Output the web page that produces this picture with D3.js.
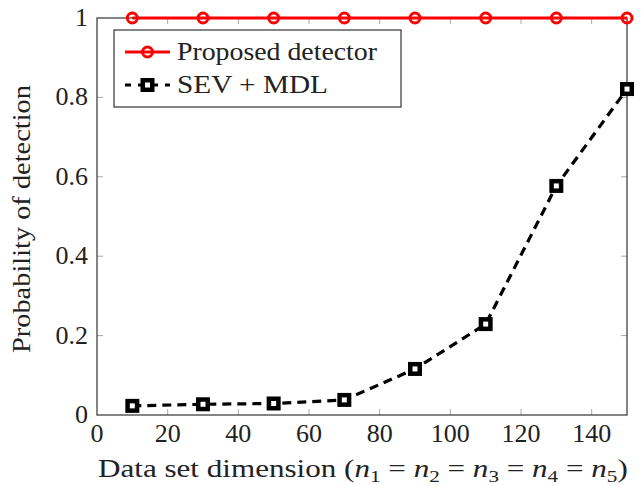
<!DOCTYPE html>
<html>
<head>
<meta charset="utf-8">
<script src="https://cdn.jsdelivr.net/npm/d3@7"></script>
<style>
  body { margin: 0; background: #fff; }
</style>
</head>
<body>
<svg id="chart" width="644" height="485"></svg>
<script>
// data
var dims = [10, 30, 50, 70, 90, 110, 130, 150];
var proposed = [1, 1, 1, 1, 1, 1, 1, 1];
var sevMdl = [0.023, 0.027, 0.029, 0.038, 0.116, 0.229, 0.577, 0.821];
var xTicks = [0, 20, 40, 60, 80, 100, 120, 140];
var yTicks = [0, 0.2, 0.4, 0.6, 0.8, 1];

var svg = d3.select("#chart");
var pL = 97, pR = 627, pT = 18, pB = 415;
var font = "Liberation Serif";
var txtColor = "#222";

var x = d3.scaleLinear().domain([0, 150]).range([pL, pR]);
var y = d3.scaleLinear().domain([0, 1]).range([pB, pT]);

// place a text at (px,py) stretched horizontally to width w (rot = -90 for vertical)
function stretched(parent, px, py, size, w, rot) {
    var t = parent.append("text")
        .attr("x", 0).attr("y", 0)
        .attr("font-family", font).attr("font-size", size)
        .attr("fill", txtColor);
    t.place = function() {
        var cur = t.node().getComputedTextLength();
        t.attr("transform", "translate(" + px + "," + py + ")" +
            (rot ? " rotate(" + rot + ")" : "") + " scale(" + (w / cur) + ",1)");
        return t;
    };
    return t;
}

// ticks (inside, mirrored)
var tickLen = 6;
var tg = svg.append("g").attr("stroke", "#a8a8a8").attr("stroke-width", 1);
xTicks.forEach(function(t) {
    if (t === 0) return;
    tg.append("line").attr("x1", x(t)).attr("x2", x(t)).attr("y1", pB).attr("y2", pB - tickLen);
    tg.append("line").attr("x1", x(t)).attr("x2", x(t)).attr("y1", pT).attr("y2", pT + tickLen);
});
yTicks.forEach(function(t) {
    if (t === 0 || t === 1) return;
    tg.append("line").attr("x1", pL).attr("x2", pL + tickLen).attr("y1", y(t)).attr("y2", y(t));
    tg.append("line").attr("x1", pR).attr("x2", pR - tickLen).attr("y1", y(t)).attr("y2", y(t));
});

// axis box
svg.append("rect")
    .attr("x", pL).attr("y", pT)
    .attr("width", pR - pL).attr("height", pB - pT)
    .attr("fill", "none").attr("stroke", "#333").attr("stroke-width", 1.2);

// tick labels
svg.selectAll(".xl").data(xTicks).enter().append("text")
    .attr("x", function(d) { return x(d); })
    .attr("y", 442)
    .attr("text-anchor", "middle")
    .attr("font-family", font).attr("font-size", 26)
    .attr("fill", txtColor)
    .text(function(d) { return d; });

svg.selectAll(".yl").data(yTicks).enter().append("text")
    .attr("x", 88)
    .attr("y", function(d) { return y(d) + 8; })
    .attr("text-anchor", "end")
    .attr("font-family", font).attr("font-size", 26)
    .attr("fill", txtColor)
    .text(function(d) { return d === 0 || d === 1 ? d : d.toFixed(1); });

// axis titles
stretched(svg, 30, 353, 25, 268, -90).text("Probability of detection").place();

var xt = stretched(svg, 98, 477, 25, 530, 0);
xt.append("tspan").text("Data set dimension (");
[1, 2, 3, 4, 5].forEach(function(k, i) {
    xt.append("tspan").attr("font-style", "italic").text("n");
    xt.append("tspan").attr("font-size", 17).attr("dy", 5).text(k);
    xt.append("tspan").attr("dy", -5).text(i < 4 ? " = " : ")");
});
xt.place();

// series
var line = d3.line()
    .x(function(d, i) { return x(dims[i]); })
    .y(function(d) { return y(d); });

svg.append("path").datum(sevMdl)
    .attr("d", line)
    .attr("fill", "none").attr("stroke", "#000")
    .attr("stroke-width", 3.2).attr("stroke-dasharray", "9,6");

var sq = 9.5;
svg.selectAll(".sq").data(sevMdl).enter().append("rect")
    .attr("x", function(d, i) { return x(dims[i]) - sq / 2; })
    .attr("y", function(d) { return y(d) - sq / 2; })
    .attr("width", sq).attr("height", sq)
    .attr("fill", "#fff").attr("stroke", "#000").attr("stroke-width", 4.5);

svg.append("path").datum(proposed)
    .attr("d", line)
    .attr("fill", "none").attr("stroke", "#f00").attr("stroke-width", 2.8);

svg.selectAll(".ci").data(proposed).enter().append("circle")
    .attr("cx", function(d, i) { return x(dims[i]); })
    .attr("cy", function(d) { return y(d); })
    .attr("r", 5)
    .attr("fill", "none").attr("stroke", "#f00").attr("stroke-width", 3);

// legend
var lg = svg.append("g");
lg.append("rect")
    .attr("x", 114).attr("y", 30).attr("width", 287).attr("height", 77)
    .attr("fill", "#fff").attr("stroke", "#333").attr("stroke-width", 1.2);

lg.append("line").attr("x1", 125).attr("x2", 170).attr("y1", 52).attr("y2", 52)
    .attr("stroke", "#f00").attr("stroke-width", 2.8);
lg.append("circle").attr("cx", 147.5).attr("cy", 52).attr("r", 5)
    .attr("fill", "none").attr("stroke", "#f00").attr("stroke-width", 3);
stretched(lg, 177, 60, 25, 200, 0).text("Proposed detector").place();

lg.append("line").attr("x1", 125).attr("x2", 170).attr("y1", 85).attr("y2", 85)
    .attr("stroke", "#000").attr("stroke-width", 3.2).attr("stroke-dasharray", "6,7,20,7,6");
lg.append("rect").attr("x", 147.5 - sq / 2).attr("y", 85 - sq / 2).attr("width", sq).attr("height", sq)
    .attr("fill", "#fff").attr("stroke", "#000").attr("stroke-width", 4.5);
stretched(lg, 177, 93, 25, 151, 0).text("SEV + MDL").place();
</script>
</body>
</html>
